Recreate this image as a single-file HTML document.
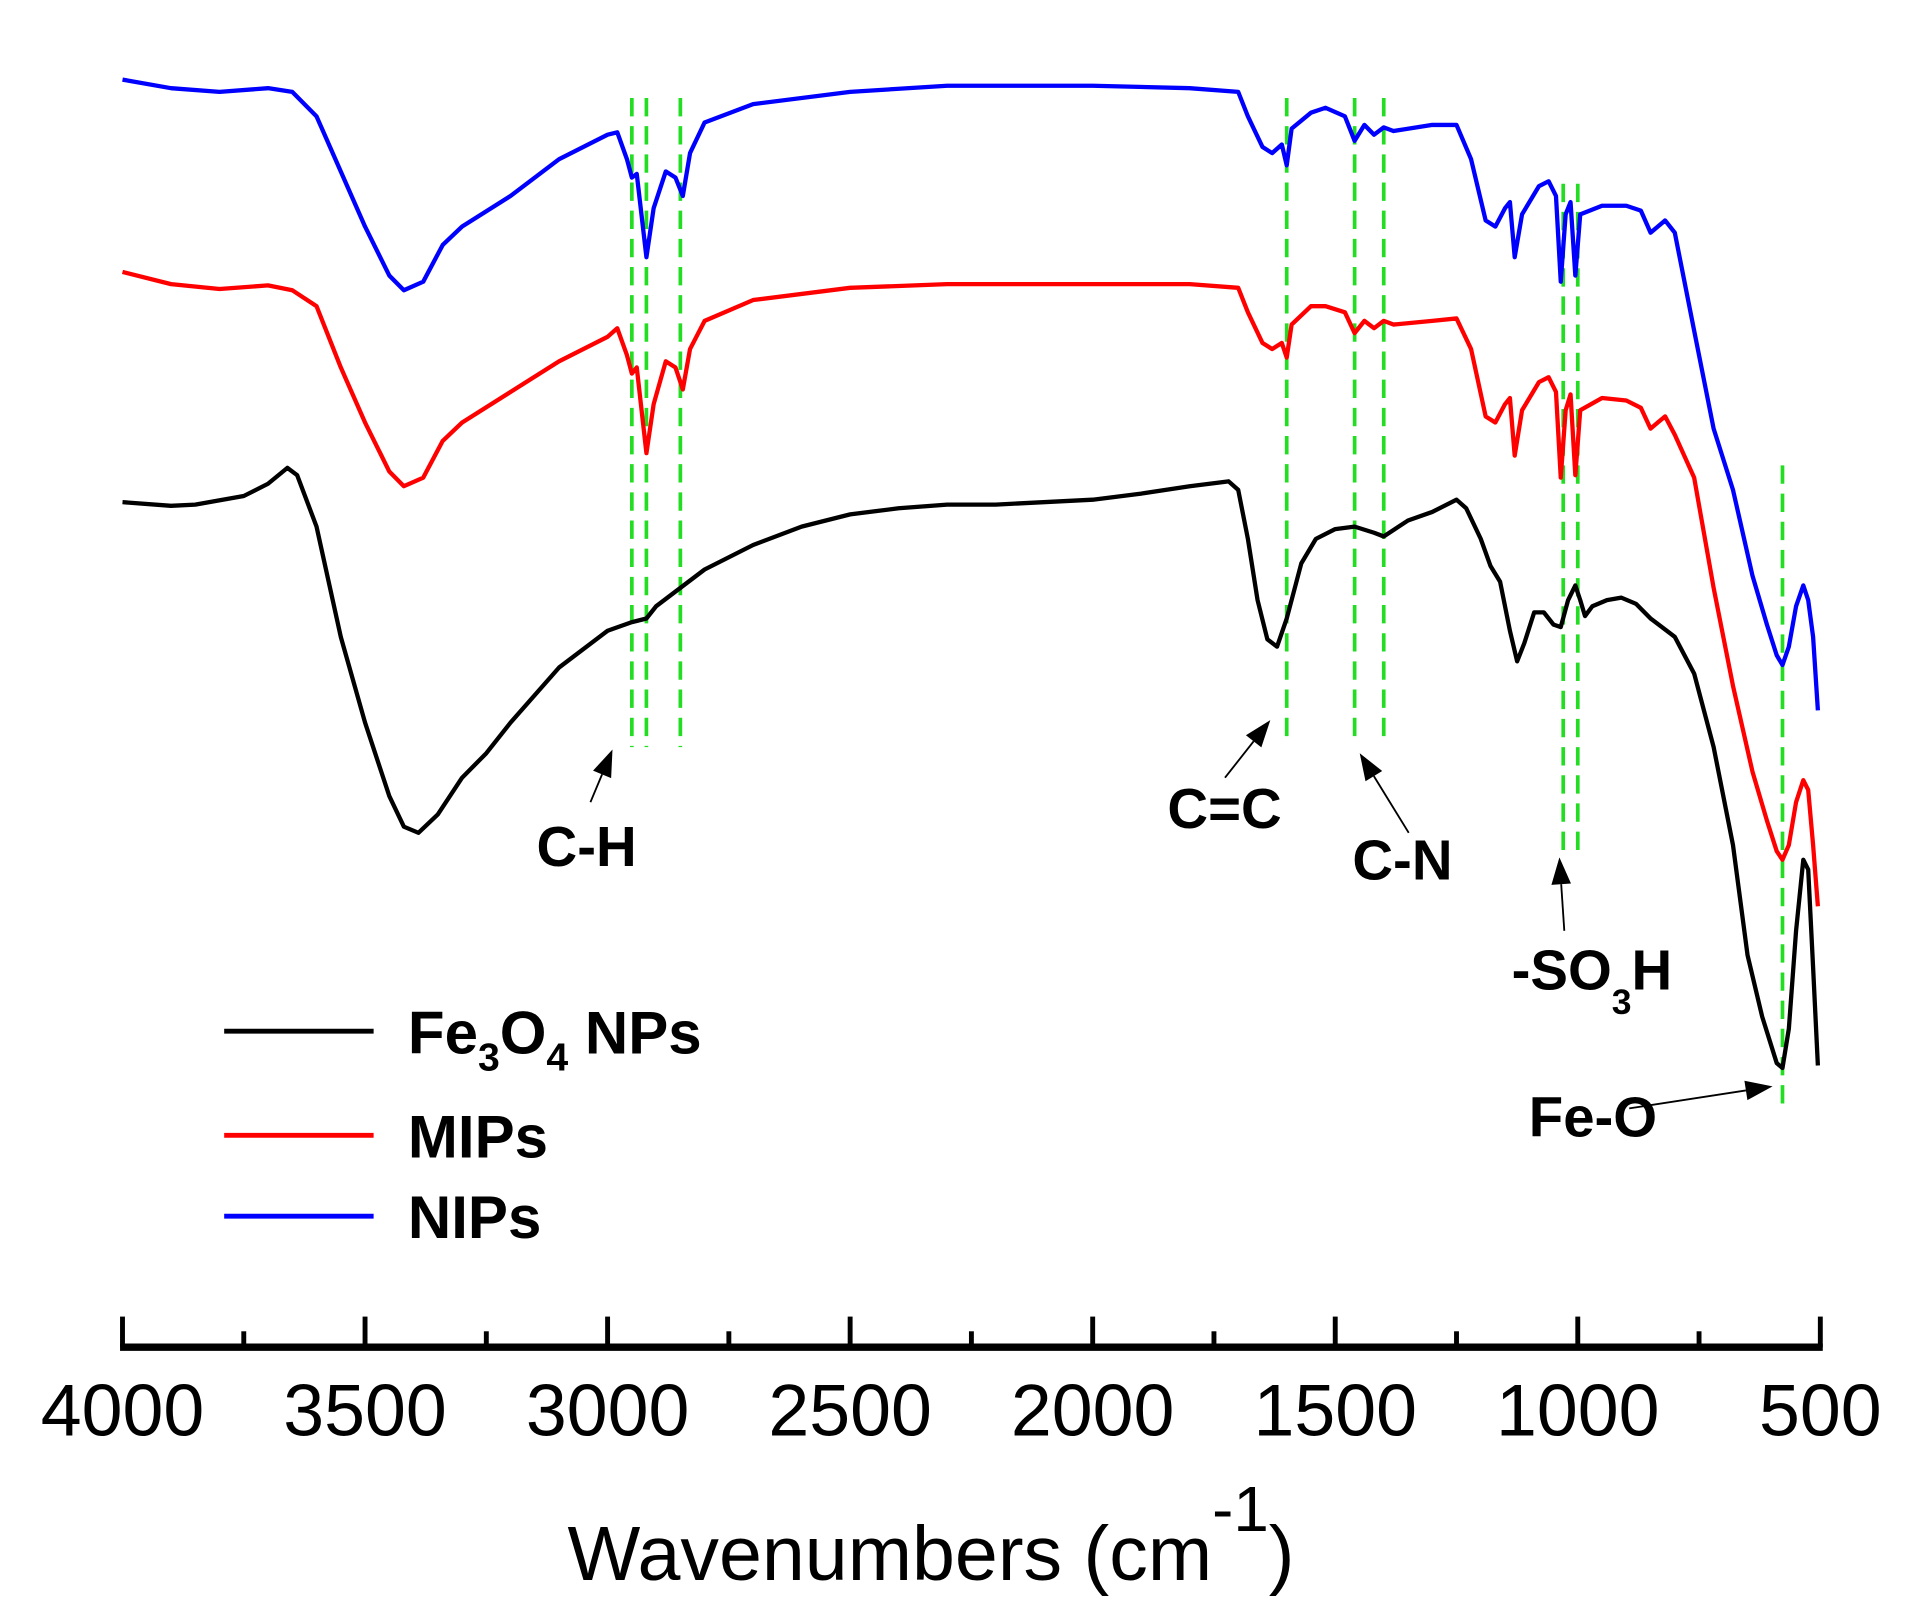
<!DOCTYPE html>
<html><head><meta charset="utf-8"><style>
html,body{margin:0;padding:0;background:#fff;}
svg{display:block;}
text{font-family:"Liberation Sans",Arial,sans-serif;}
</style></head><body>
<svg id="chart" width="1922" height="1624" viewBox="0 0 1569 1326" preserveAspectRatio="none" xmlns="http://www.w3.org/2000/svg">
<g id="guides"></g>
<g id="series"></g>
<g id="axis"></g>
<text x="760" y="1290" font-size="63" text-anchor="middle">Wavenumbers (cm<tspan dy="-40" font-size="52">-1</tspan><tspan dy="40">)</tspan></text>
<g font-weight="bold" font-size="46">
<text x="438" y="707">C-H</text>
<text x="953" y="676">C=C</text>
<text x="1104" y="718">C-N</text>
<text x="1234" y="808">-SO<tspan dy="20" font-size="29">3</tspan><tspan dy="-20">H</tspan></text>
<text x="1248" y="928">Fe-O</text>
</g>
<g id="arrows"></g>
<g font-weight="bold" font-size="49">
<line x1="183" y1="842" x2="305" y2="842" stroke="#000" stroke-width="4"/>
<text x="333" y="860">Fe<tspan dy="14" font-size="32">3</tspan><tspan dy="-14">O</tspan><tspan dy="14" font-size="32">4</tspan><tspan dy="-14"> NPs</tspan></text>
<line x1="183" y1="927" x2="305" y2="927" stroke="#f00" stroke-width="4"/>
<text x="333" y="945">MIPs</text>
<line x1="183" y1="993" x2="305" y2="993" stroke="#00f" stroke-width="4"/>
<text x="333" y="1011">NIPs</text>
</g>
</svg>
<script>
const nipsW=[4000,3900,3800,3700,3650,3600,3550,3500,3450,3420,3380,3340,3300,3200,3100,3000,2980,2960,2950,2940,2920,2905,2880,2860,2845,2830,2800,2700,2500,2300,2000,1800,1700,1680,1650,1630,1610,1600,1590,1550,1520,1480,1460,1440,1420,1400,1380,1300,1250,1220,1190,1170,1150,1140,1130,1115,1080,1060,1045,1035,1025,1015,1005,995,950,900,870,850,835,820,800,760,720,680,640,610,590,578,565,550,535,525,515,505];
const nipsY=[65,72,75,72,75,95,140,185,225,237,230,200,185,160,130,110,108,130,145,142,210,170,140,145,160,125,100,85,75,70,70,72,75,95,120,125,118,135,105,92,88,95,115,102,110,104,107,102,102,130,180,185,170,165,210,175,152,148,160,230,175,165,225,175,168,168,172,190,185,180,190,270,350,400,470,510,535,543,528,495,478,490,520,580];
const mipsW=nipsW;
const mipsY=[222,232,236,233,237,250,300,345,385,397,390,360,345,320,295,275,268,290,305,300,370,330,295,300,318,285,262,245,235,232,232,232,235,255,280,285,280,292,265,250,250,255,272,262,268,262,265,262,260,285,340,345,330,325,372,335,312,308,320,390,335,322,388,335,325,327,333,350,345,340,355,390,480,560,630,670,695,702,690,655,637,645,690,740];
const feW=[4000,3900,3850,3750,3700,3660,3640,3600,3550,3500,3450,3420,3390,3350,3300,3250,3200,3100,3000,2950,2920,2900,2850,2800,2700,2600,2500,2400,2300,2200,2000,1900,1800,1720,1700,1680,1660,1640,1620,1600,1570,1540,1500,1460,1420,1400,1350,1300,1250,1230,1200,1180,1160,1140,1125,1110,1090,1070,1050,1035,1020,1005,995,985,970,940,910,880,850,800,760,720,680,650,620,590,578,565,550,535,525,515,505];
const feY=[410,413,412,405,395,382,388,430,520,590,650,675,680,665,635,615,590,545,515,508,505,495,480,465,445,430,420,415,412,412,408,403,397,393,400,440,490,522,528,505,460,440,432,430,435,438,425,418,408,415,440,462,475,515,540,525,500,500,510,512,490,478,490,503,495,490,488,493,505,520,550,610,690,780,830,868,872,840,760,702,710,790,870];
const guideW=[2950,2920,2850,1600,1460,1400,1030,1000,578];
const tickLabels=[4000,3500,3000,2500,2000,1500,1000,500];
const NS='http://www.w3.org/2000/svg';
function X(w){return 100+(4000-w)*1386/3500;}
function mk(tag,attrs,parent){const e=document.createElementNS(NS,tag);for(const k in attrs)e.setAttribute(k,attrs[k]);parent.appendChild(e);return e;}
const sg=document.getElementById('series');
function drawSeries(ws,ys,color,name){
  let d='';ws.forEach((w,i)=>{d+=(i?'L':'M')+X(w).toFixed(1)+' '+ys[i]+' ';});
  const p=mk('path',{d:d,fill:'none',stroke:color,'stroke-width':3.5,'stroke-linejoin':'round'},sg);
  
  
}
drawSeries(feW,feY,'#000','series-fe3o4');
drawSeries(mipsW,mipsY,'#f00','series-mips');
drawSeries(nipsW,nipsY,'#00f','series-nips');
const gg=document.getElementById('guides');
const guideSpan=[[80,610],[80,610],[80,610],[80,605],[80,605],[80,605],[150,700],[150,700],[380,905]];
guideW.forEach((w,i)=>{
  const l=mk('line',{x1:X(w),x2:X(w),y1:guideSpan[i][0],y2:guideSpan[i][1],stroke:'#22dd22','stroke-width':3,'stroke-dasharray':'15 8'},gg);
  
  
});
const ag=document.getElementById('axis');
const base=mk('line',{x1:98,x2:1488,y1:1100,y2:1100,stroke:'#000','stroke-width':6},ag);


for(let w=4000;w>=500;w-=250){
  const major=(w%500===0);
  const t=mk('line',{x1:X(w),x2:X(w),y1:major?1075:1087,y2:1100,stroke:'#000','stroke-width':4},ag);
  
  
}
tickLabels.forEach(v=>{
  const t=mk('text',{x:X(v),y:1172,'font-size':60,'text-anchor':'middle'},ag);
  t.textContent=v;
  
  
});
const arg=document.getElementById('arrows');
function arrow(x1,y1,x2,y2){
  const a=Math.atan2(y2-y1,x2-x1),L=22,Wd=8;
  const bx=x2-L*Math.cos(a),by=y2-L*Math.sin(a);
  const l=mk('line',{x1:x1,y1:y1,x2:bx,y2:by,stroke:'#000','stroke-width':1.5},arg);
  
  
  const px=-Math.sin(a)*Wd,py=Math.cos(a)*Wd;
  const h=mk('polygon',{points:`${x2},${y2} ${bx+px},${by+py} ${bx-px},${by-py}`,fill:'#000'},arg);
  
  
}
arrow(482,655,500,612);
arrow(1000,635,1037,588);
arrow(1150,680,1110,615);
arrow(1277,760,1273,700);
arrow(1330,905,1447,887);
</script>
</body></html>
